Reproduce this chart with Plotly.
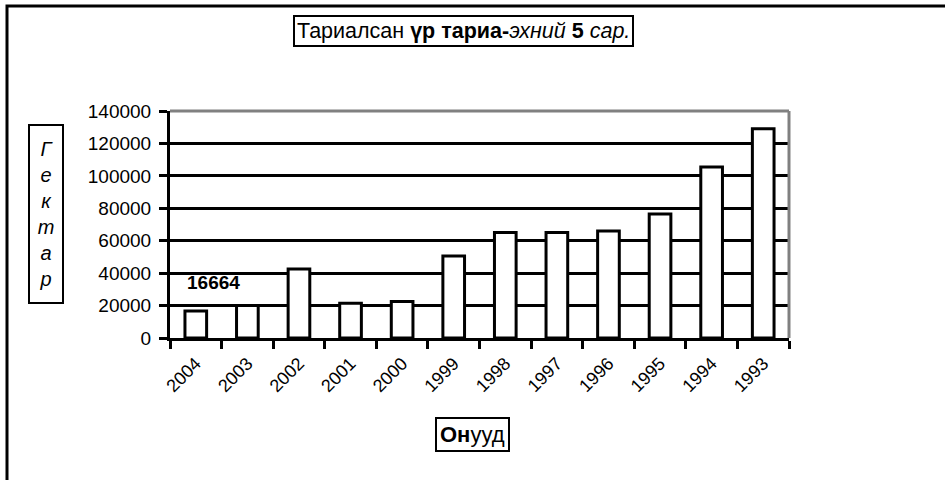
import plotly.graph_objects as go

years = ["2004", "2003", "2002", "2001", "2000", "1999", "1998", "1997", "1996", "1995", "1994", "1993"]
hectares = [16664, 20000, 42500, 21500, 22500, 50500, 65000, 65000, 66000, 76500, 105500, 129000]
y_ticks = [0, 20000, 40000, 60000, 80000, 100000, 120000, 140000]

title_text = "Тариалсан <b>үр тариа-</b><i>эхний</i> <b>5</b> <i>сар.</i>"
y_title = "<i>Г<br>е<br>к<br>т<br>а<br>р</i>"
x_title = "<b>Он</b>ууд"

FONT = "Liberation Sans, Arial, sans-serif"

fig = go.Figure()
fig.add_trace(go.Bar(
    x=years, y=hectares,
    marker=dict(color="white", line=dict(color="black", width=3)),
    width=0.42,
    showlegend=False,
))

L, R, T, B = 170, 156, 111, 142
W, H = 945, 480
pw, ph = W - L - R, H - T - B

fig.update_layout(
    width=W, height=H,
    margin=dict(l=L, r=R, t=T, b=B, pad=0),
    paper_bgcolor="white", plot_bgcolor="white",
    font=dict(family=FONT, color="black", size=18),
    xaxis=dict(
        type="category", categoryorder="array", categoryarray=years,
        showline=True, linecolor="black", linewidth=3,
        ticks="outside", tickson="boundaries", ticklen=8, tickwidth=3, tickcolor="black",
        tickangle=-45, tickfont=dict(size=18, family=FONT), ticklabelstandoff=5,
        showgrid=False, zeroline=False, automargin=False,
    ),
    yaxis=dict(
        range=[0, 140000], tickvals=y_ticks,
        ticktext=[str(v) for v in y_ticks],
        showline=True, linecolor="black", linewidth=3,
        ticks="outside", ticklen=8, tickwidth=3, tickcolor="black",
        tickfont=dict(size=19, family=FONT), ticklabelstandoff=4,
        showgrid=True, gridcolor="black", gridwidth=3,
        zeroline=False, automargin=False,
    ),
    shapes=[
        dict(type="line", xref="paper", yref="paper", x0=0, x1=1, y0=1, y1=1,
             line=dict(color="#808080", width=3), layer="above"),
        dict(type="line", xref="paper", yref="paper", x0=1, x1=1, y0=0, y1=1,
             line=dict(color="#808080", width=3), layer="above"),
        dict(type="rect", xref="paper", yref="paper",
             x0=(7 - L) / pw, x1=(W + 20 - L) / pw,
             y0=-(B + 20) / ph, y1=1 + (T - 6) / ph,
             line=dict(color="black", width=3), fillcolor="rgba(0,0,0,0)", layer="below"),
    ],
    annotations=[
        dict(text=title_text, xref="paper", yref="paper",
             x=(463 - L) / pw, y=1 + (T - 31) / ph, xanchor="center", yanchor="middle",
             showarrow=False, font=dict(size=21.5, family=FONT),
             bordercolor="black", borderwidth=2, borderpad=2, bgcolor="white"),
        dict(text=y_title, xref="paper", yref="paper",
             x=(46 - L) / pw, y=1 - (214 - T) / ph, xanchor="center", yanchor="middle",
             showarrow=False, font=dict(size=20, family=FONT),
             width=28, height=172, valign="middle",
             bordercolor="black", borderwidth=2, borderpad=2, bgcolor="white"),
        dict(text=x_title, xref="paper", yref="paper",
             x=(472 - L) / pw, y=-(434 - (H - B)) / ph, xanchor="center", yanchor="middle",
             showarrow=False, font=dict(size=22, family=FONT),
             bordercolor="black", borderwidth=2, borderpad=3, bgcolor="white"),
        dict(text="<b>%d</b>" % hectares[0], x=years.index("2004"), y=hectares[0],
             xref="x", yref="y", showarrow=False, xshift=18, yshift=28,
             font=dict(size=19, family=FONT)),
    ],
)

fig.write_html("out.html", config={"displayModeBar": False},
               post_script="document.body.style.margin='0';document.body.style.overflow='hidden';")
